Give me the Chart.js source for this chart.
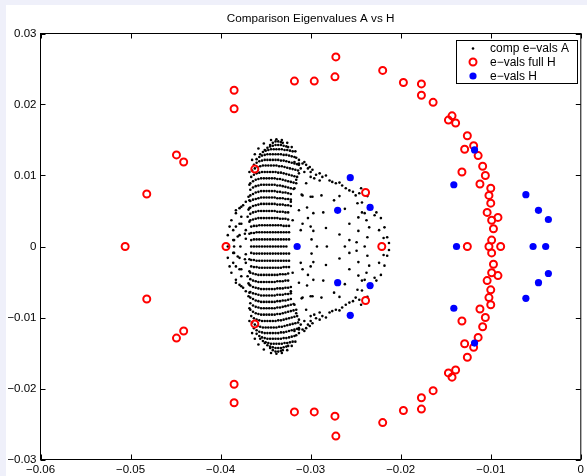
<!DOCTYPE html>
<html>
<head>
<meta charset="utf-8">
<script src="https://cdn.jsdelivr.net/npm/chart.js@4"></script>
<style>
  html, body { margin: 0; padding: 0; background: #eff0fa; }
  body { width: 587px; height: 476px; overflow: hidden; position: relative; }
  #wrap { position: absolute; left: 6px; top: 5px; width: 581px; height: 471px; background: #fff; }
</style>
</head>
<body>
<div id="wrap"><canvas id="chart" width="581" height="471"></canvas></div>
<script>
"use strict";

const titleText = 'Comparison Eigenvalues A vs H';
const seriesNames = ['comp e\u2212vals A', 'e\u2212vals full H', 'e\u2212vals H'];

const xTicks = [-0.06, -0.05, -0.04, -0.03, -0.02, -0.01, 0];
const xTickLabels = ['\u22120.06', '\u22120.05', '\u22120.04', '\u22120.03', '\u22120.02', '\u22120.01', '0'];
const yTicks = [-0.03, -0.02, -0.01, 0, 0.01, 0.02, 0.03];
const yTickLabels = ['\u22120.03', '\u22120.02', '\u22120.01', '0', '0.01', '0.02', '0.03'];

// comp e-vals A, the dense lobe: one entry per arc of dots (conjugate pairs share re)
const lobeArcs = [
  { re: [-0.0345,-0.0342,-0.0339,-0.0336,-0.0333,-0.0331],
    imUp: [0.0143,0.0146,0.0148,0.0148,0.0147,0.0146],
    imDown: [-0.0143,-0.0146,-0.0148,-0.0148,-0.0147,-0.0146] },
  { re: [-0.0351,-0.0348,-0.0345,-0.0342,-0.0339,-0.0336,-0.0333,-0.0330,-0.0327,-0.0325],
    imUp: [0.0136,0.0139,0.0141,0.0142,0.0143,0.0143,0.0143,0.0142,0.0141,0.0140],
    imDown: [-0.0136,-0.0139,-0.0141,-0.0142,-0.0143,-0.0143,-0.0143,-0.0142,-0.0141,-0.0140] },
  { re: [-0.0356,-0.0353,-0.0350,-0.0347,-0.0344,-0.0341,-0.0338,-0.0335,-0.0332,-0.0329,-0.0326,-0.0323,-0.0320],
    imUp: [0.0130,0.0133,0.0135,0.0136,0.0137,0.0137,0.0137,0.0137,0.0137,0.0136,0.0136,0.0135,0.0134],
    imDown: [-0.0130,-0.0133,-0.0135,-0.0136,-0.0137,-0.0137,-0.0137,-0.0137,-0.0137,-0.0136,-0.0136,-0.0135,-0.0134] },
  { re: [-0.0360,-0.0357,-0.0354,-0.0351,-0.0348,-0.0345,-0.0342,-0.0339,-0.0336,-0.0333,-0.0330,-0.0327,-0.0324,-0.0321,-0.0318,-0.0316],
    imUp: [0.0123,0.0126,0.0128,0.0129,0.0130,0.0130,0.0130,0.0130,0.0130,0.0130,0.0129,0.0129,0.0128,0.0127,0.0126,0.0125],
    imDown: [-0.0123,-0.0126,-0.0128,-0.0129,-0.0130,-0.0130,-0.0130,-0.0130,-0.0130,-0.0130,-0.0129,-0.0129,-0.0128,-0.0127,-0.0126,-0.0125] },
  { re: [-0.0363,-0.0360,-0.0357,-0.0354,-0.0351,-0.0348,-0.0345,-0.0342,-0.0339,-0.0336,-0.0333,-0.0330,-0.0327,-0.0324,-0.0321,-0.0318,-0.0315,-0.0313],
    imUp: [0.0115,0.0118,0.0120,0.0121,0.0122,0.0122,0.0122,0.0122,0.0122,0.0122,0.0121,0.0121,0.0120,0.0119,0.0118,0.0117,0.0116,0.0115],
    imDown: [-0.0115,-0.0118,-0.0120,-0.0121,-0.0122,-0.0122,-0.0122,-0.0122,-0.0122,-0.0122,-0.0121,-0.0121,-0.0120,-0.0119,-0.0118,-0.0117,-0.0116,-0.0115] },
  { re: [-0.0365,-0.0362,-0.0359,-0.0356,-0.0353,-0.0350,-0.0347,-0.0344,-0.0341,-0.0338,-0.0335,-0.0332,-0.0329,-0.0326,-0.0323,-0.0320,-0.0317,-0.0314],
    imUp: [0.0107,0.0110,0.0112,0.0113,0.0114,0.0114,0.0114,0.0114,0.0114,0.0114,0.0113,0.0113,0.0112,0.0111,0.0110,0.0109,0.0108,0.0107],
    imDown: [-0.0107,-0.0110,-0.0112,-0.0113,-0.0114,-0.0114,-0.0114,-0.0114,-0.0114,-0.0114,-0.0113,-0.0113,-0.0112,-0.0111,-0.0110,-0.0109,-0.0108,-0.0107] },
  { re: [-0.0366,-0.0363,-0.0360,-0.0357,-0.0354,-0.0351,-0.0348,-0.0345,-0.0342,-0.0339,-0.0336,-0.0333,-0.0330,-0.0327,-0.0324,-0.0321,-0.0318,-0.0315],
    imUp: [0.0098,0.0101,0.0103,0.0104,0.0105,0.0105,0.0105,0.0105,0.0105,0.0105,0.0104,0.0104,0.0103,0.0102,0.0101,0.0100,0.0099,0.0098],
    imDown: [-0.0098,-0.0101,-0.0103,-0.0104,-0.0105,-0.0105,-0.0105,-0.0105,-0.0105,-0.0105,-0.0104,-0.0104,-0.0103,-0.0102,-0.0101,-0.0100,-0.0099,-0.0098] },
  { re: [-0.0367,-0.0364,-0.0361,-0.0358,-0.0355,-0.0352,-0.0349,-0.0346,-0.0343,-0.0340,-0.0337,-0.0334,-0.0331,-0.0328,-0.0325,-0.0322,-0.0319,-0.0316],
    imUp: [0.0089,0.0092,0.0094,0.0095,0.0096,0.0096,0.0096,0.0096,0.0096,0.0096,0.0095,0.0095,0.0094,0.0093,0.0092,0.0091,0.0090,0.0089],
    imDown: [-0.0089,-0.0092,-0.0094,-0.0095,-0.0096,-0.0096,-0.0096,-0.0096,-0.0096,-0.0096,-0.0095,-0.0095,-0.0094,-0.0093,-0.0092,-0.0091,-0.0090,-0.0089] },
  { re: [-0.0367,-0.0364,-0.0361,-0.0358,-0.0355,-0.0352,-0.0349,-0.0346,-0.0343,-0.0340,-0.0337,-0.0334,-0.0331,-0.0328,-0.0325,-0.0322,-0.0319],
    imUp: [0.0080,0.0083,0.0085,0.0086,0.0087,0.0087,0.0087,0.0087,0.0087,0.0087,0.0086,0.0086,0.0085,0.0084,0.0083,0.0082,0.0081],
    imDown: [-0.0080,-0.0083,-0.0085,-0.0086,-0.0087,-0.0087,-0.0087,-0.0087,-0.0087,-0.0087,-0.0086,-0.0086,-0.0085,-0.0084,-0.0083,-0.0082,-0.0081] },
  { re: [-0.0367,-0.0364,-0.0361,-0.0358,-0.0355,-0.0352,-0.0349,-0.0346,-0.0343,-0.0340,-0.0337,-0.0334,-0.0331,-0.0328,-0.0325,-0.0322],
    imUp: [0.0072,0.0074,0.0076,0.0077,0.0078,0.0078,0.0078,0.0078,0.0078,0.0078,0.0077,0.0077,0.0076,0.0076,0.0075,0.0074],
    imDown: [-0.0072,-0.0074,-0.0076,-0.0077,-0.0078,-0.0078,-0.0078,-0.0078,-0.0078,-0.0078,-0.0077,-0.0077,-0.0076,-0.0076,-0.0075,-0.0074] },
  { re: [-0.0367,-0.0364,-0.0361,-0.0358,-0.0355,-0.0352,-0.0349,-0.0346,-0.0343,-0.0340,-0.0337,-0.0334,-0.0331,-0.0328,-0.0325,-0.0322],
    imUp: [0.0064,0.0066,0.0067,0.0068,0.0069,0.0069,0.0069,0.0069,0.0069,0.0069,0.0068,0.0068,0.0068,0.0067,0.0067,0.0066],
    imDown: [-0.0064,-0.0066,-0.0067,-0.0068,-0.0069,-0.0069,-0.0069,-0.0069,-0.0069,-0.0069,-0.0068,-0.0068,-0.0068,-0.0067,-0.0067,-0.0066] },
  { re: [-0.0367,-0.0364,-0.0361,-0.0358,-0.0355,-0.0352,-0.0349,-0.0346,-0.0343,-0.0340,-0.0337,-0.0334,-0.0331,-0.0328,-0.0325,-0.0322],
    imUp: [0.0055,0.0057,0.0058,0.0059,0.0060,0.0060,0.0060,0.0060,0.0060,0.0060,0.0059,0.0059,0.0059,0.0058,0.0058,0.0057],
    imDown: [-0.0055,-0.0057,-0.0058,-0.0059,-0.0060,-0.0060,-0.0060,-0.0060,-0.0060,-0.0060,-0.0059,-0.0059,-0.0059,-0.0058,-0.0058,-0.0057] },
  { re: [-0.0367,-0.0364,-0.0361,-0.0358,-0.0355,-0.0352,-0.0349,-0.0346,-0.0343,-0.0340,-0.0337,-0.0334,-0.0331,-0.0328,-0.0325],
    imUp: [0.0046,0.0048,0.0049,0.0050,0.0050,0.0050,0.0050,0.0050,0.0050,0.0050,0.0049,0.0049,0.0049,0.0048,0.0048],
    imDown: [-0.0046,-0.0048,-0.0049,-0.0050,-0.0050,-0.0050,-0.0050,-0.0050,-0.0050,-0.0050,-0.0049,-0.0049,-0.0049,-0.0048,-0.0048] },
  { re: [-0.0367,-0.0364,-0.0361,-0.0358,-0.0355,-0.0352,-0.0349,-0.0346,-0.0343,-0.0340,-0.0337,-0.0334,-0.0331,-0.0328,-0.0325],
    imUp: [0.0037,0.0038,0.0039,0.0040,0.0040,0.0040,0.0040,0.0040,0.0040,0.0040,0.0040,0.0039,0.0039,0.0039,0.0038],
    imDown: [-0.0037,-0.0038,-0.0039,-0.0040,-0.0040,-0.0040,-0.0040,-0.0040,-0.0040,-0.0040,-0.0040,-0.0039,-0.0039,-0.0039,-0.0038] },
  { re: [-0.0366,-0.0363,-0.0360,-0.0357,-0.0354,-0.0351,-0.0348,-0.0345,-0.0342,-0.0339,-0.0336,-0.0333,-0.0330,-0.0327,-0.0324],
    imUp: [0.0028,0.0029,0.0029,0.0030,0.0030,0.0030,0.0030,0.0030,0.0030,0.0030,0.0030,0.0030,0.0029,0.0029,0.0029],
    imDown: [-0.0028,-0.0029,-0.0029,-0.0030,-0.0030,-0.0030,-0.0030,-0.0030,-0.0030,-0.0030,-0.0030,-0.0030,-0.0029,-0.0029,-0.0029] },
  { re: [-0.0366,-0.0363,-0.0360,-0.0357,-0.0354,-0.0351,-0.0348,-0.0345,-0.0342,-0.0339,-0.0336,-0.0333,-0.0330,-0.0327,-0.0324],
    imUp: [0.0019,0.0019,0.0020,0.0020,0.0020,0.0020,0.0020,0.0020,0.0020,0.0020,0.0020,0.0020,0.0020,0.0020,0.0020],
    imDown: [-0.0019,-0.0019,-0.0020,-0.0020,-0.0020,-0.0020,-0.0020,-0.0020,-0.0020,-0.0020,-0.0020,-0.0020,-0.0020,-0.0020,-0.0020] },
  { re: [-0.0366,-0.0363,-0.0360,-0.0357,-0.0354,-0.0351,-0.0348,-0.0345,-0.0342,-0.0339,-0.0336,-0.0333,-0.0330,-0.0327,-0.0324],
    imUp: [0.0009,0.0010,0.0010,0.0010,0.0010,0.0010,0.0010,0.0010,0.0010,0.0010,0.0010,0.0010,0.0010,0.0010,0.0010],
    imDown: [-0.0009,-0.0010,-0.0010,-0.0010,-0.0010,-0.0010,-0.0010,-0.0010,-0.0010,-0.0010,-0.0010,-0.0010,-0.0010,-0.0010,-0.0010] }
];
const lobeEdgeUpper = [
  [-0.0365,0.0122],[-0.0362,0.0130],[-0.0358,0.0138],[-0.0352,0.0145],[-0.0344,0.0150],[-0.0338,0.0151],[-0.0332,0.0150],
  [-0.0326,0.0146],[-0.0321,0.0140],[-0.0317,0.0134],[-0.0368,0.0105],[-0.0368,0.0087],[-0.0369,0.0070],[-0.0369,0.0052],
  [-0.0368,0.0035],[-0.0368,0.0018]
];
const lobeEdgeLower = [
  [-0.0365,-0.0122],[-0.0362,-0.0130],[-0.0358,-0.0138],[-0.0352,-0.0145],[-0.0344,-0.0150],[-0.0338,-0.0151],[-0.0332,-0.0150],
  [-0.0326,-0.0146],[-0.0321,-0.0140],[-0.0317,-0.0134],[-0.0368,-0.0105],[-0.0368,-0.0087],[-0.0369,-0.0070],[-0.0369,-0.0052],
  [-0.0368,-0.0035],[-0.0368,-0.0018]
];
const outerUpper = [
  [-0.0318,0.0119],[-0.0313,0.0117],[-0.0307,0.0119],[-0.0303,0.0110],[-0.0313,0.0103],[-0.0300,0.0105],[-0.0316,0.0094],
  [-0.0305,0.0089],[-0.0318,0.0082],[-0.0309,0.0072],[-0.0300,0.0070],[-0.0322,0.0063],[-0.0313,0.0051],[-0.0303,0.0040],
  [-0.0320,0.0037],[-0.0311,0.0023],[-0.0300,0.0028],
  [-0.0313,0.0122],[-0.0309,0.0117],[-0.0305,0.0115],[-0.0311,0.0110],[-0.0301,0.0112],[-0.0307,0.0105],[-0.0298,0.0108],
  [-0.0294,0.0101],[-0.0300,0.0098],[-0.0290,0.0103],[-0.0287,0.0098],[-0.0283,0.0100],[-0.0279,0.0093],[-0.0276,0.0091],
  [-0.0272,0.0089],[-0.0268,0.0090],[-0.0265,0.0086],[-0.0290,0.0093],[-0.0296,0.0096],[-0.0261,0.0082],[-0.0257,0.0079],
  [-0.0253,0.0077],[-0.0250,0.0072],[-0.0246,0.0075],
  [-0.0243,0.0062],[-0.0235,0.0058],[-0.0227,0.0048],[-0.0222,0.0040],[-0.0218,0.0027],[-0.0215,0.0013],[-0.0213,0.0005],
  [-0.0248,0.0061],[-0.0243,0.0048],[-0.0238,0.0037],[-0.0235,0.0027],[-0.0244,0.0082],[-0.0237,0.0071],[-0.0229,0.0044],
  [-0.0224,0.0023],[-0.0219,0.0012],
  [-0.0310,0.0073],[-0.0298,0.0070],[-0.0288,0.0072],[-0.0274,0.0065],[-0.0268,0.0071],[-0.0304,0.0055],[-0.0297,0.0047],
  [-0.0286,0.0048],[-0.0262,0.0053],[-0.0309,0.0032],[-0.0297,0.0022],[-0.0283,0.0026],[-0.0268,0.0017],[-0.0257,0.0032],
  [-0.0247,0.0041],[-0.0247,0.0022],[-0.0240,0.0047],[-0.0237,0.0013],[-0.0299,0.0010],[-0.0257,0.0009],[-0.0249,0.0006]
];
const outerLower = [
  [-0.0318,-0.0119],[-0.0313,-0.0117],[-0.0307,-0.0119],[-0.0303,-0.0110],[-0.0313,-0.0103],[-0.0300,-0.0105],[-0.0316,-0.0094],
  [-0.0305,-0.0089],[-0.0318,-0.0082],[-0.0309,-0.0072],[-0.0300,-0.0070],[-0.0322,-0.0063],[-0.0313,-0.0051],[-0.0303,-0.0040],
  [-0.0320,-0.0037],[-0.0311,-0.0023],[-0.0300,-0.0028],
  [-0.0313,-0.0122],[-0.0309,-0.0117],[-0.0305,-0.0115],[-0.0311,-0.0110],[-0.0301,-0.0112],[-0.0307,-0.0105],[-0.0298,-0.0108],
  [-0.0294,-0.0101],[-0.0300,-0.0098],[-0.0290,-0.0103],[-0.0287,-0.0098],[-0.0283,-0.0100],[-0.0279,-0.0093],[-0.0276,-0.0091],
  [-0.0272,-0.0089],[-0.0268,-0.0090],[-0.0265,-0.0086],[-0.0290,-0.0093],[-0.0296,-0.0096],[-0.0261,-0.0082],[-0.0257,-0.0079],
  [-0.0253,-0.0077],[-0.0250,-0.0072],[-0.0246,-0.0075],
  [-0.0243,-0.0062],[-0.0235,-0.0058],[-0.0227,-0.0048],[-0.0222,-0.0040],[-0.0218,-0.0027],[-0.0215,-0.0013],[-0.0213,-0.0005],
  [-0.0248,-0.0061],[-0.0243,-0.0048],[-0.0238,-0.0037],[-0.0235,-0.0027],[-0.0244,-0.0082],[-0.0237,-0.0071],[-0.0229,-0.0044],
  [-0.0224,-0.0023],[-0.0219,-0.0012],
  [-0.0310,-0.0073],[-0.0298,-0.0070],[-0.0288,-0.0072],[-0.0274,-0.0065],[-0.0268,-0.0071],[-0.0304,-0.0055],[-0.0297,-0.0047],
  [-0.0286,-0.0048],[-0.0262,-0.0053],[-0.0309,-0.0032],[-0.0297,-0.0022],[-0.0283,-0.0026],[-0.0268,-0.0017],[-0.0257,-0.0032],
  [-0.0247,-0.0041],[-0.0247,-0.0022],[-0.0240,-0.0047],[-0.0237,-0.0013],[-0.0299,-0.0010],[-0.0257,-0.0009],[-0.0249,-0.0006]
];
const ringUpper = [
  [-0.0383,0.0047],[-0.0379,0.0054],[-0.0375,0.0058],[-0.0372,0.0063],[-0.0388,0.0037],[-0.0390,0.0028],[-0.0392,0.0016],
  [-0.0383,0.0028],[-0.0377,0.0032],[-0.0379,0.0016],[-0.0372,0.0023],[-0.0385,0.0009],[-0.0372,0.0011],[-0.0377,0.0042],
  [-0.0370,0.0042],[-0.0368,0.0054],[-0.0368,0.0065],[-0.0383,0.0051],[-0.0377,0.0056],[-0.0386,0.0023],[-0.0379,0.0032],
  [-0.0381,0.0014],[-0.0373,0.0018],[-0.0386,0.0009]
];
const ringLower = [
  [-0.0383,-0.0047],[-0.0379,-0.0054],[-0.0375,-0.0058],[-0.0372,-0.0063],[-0.0388,-0.0037],[-0.0390,-0.0028],[-0.0392,-0.0016],
  [-0.0383,-0.0028],[-0.0377,-0.0032],[-0.0379,-0.0016],[-0.0372,-0.0023],[-0.0385,-0.0009],[-0.0372,-0.0011],[-0.0377,-0.0042],
  [-0.0370,-0.0042],[-0.0368,-0.0054],[-0.0368,-0.0065],[-0.0383,-0.0051],[-0.0377,-0.0056],[-0.0386,-0.0023],[-0.0379,-0.0032],
  [-0.0381,-0.0014],[-0.0373,-0.0018],[-0.0386,-0.0009]
];
const cloudReal = [
  [-0.0392,0],[-0.0385,0],[-0.0378,0],[-0.0366,0],[-0.0363,0],[-0.0360,0],[-0.0357,0],[-0.0354,0],[-0.0351,0],[-0.0348,0],
  [-0.0345,0],[-0.0342,0],[-0.0339,0],[-0.0336,0],[-0.0333,0],[-0.0330,0],[-0.0327,0],
  [-0.0293,0],[-0.0282,0],[-0.0262,0],[-0.0240,0]
];

// e-vals full H
const fullHUpper = [
  [-0.0482,0.0074],[-0.0449,0.0129],[-0.0441,0.0119],[-0.0385,0.0220],[-0.0385,0.0194],[-0.0362,0.0109],[-0.0318,0.0233],
  [-0.0296,0.0233],[-0.0272,0.0267],[-0.0273,0.0239],[-0.0239,0.0076],[-0.0220,0.0248],[-0.0197,0.0231],[-0.0177,0.0229],
  [-0.0177,0.0213],[-0.0164,0.0203],[-0.0143,0.0184],[-0.0147,0.0178],[-0.0139,0.0174],[-0.0126,0.0156],[-0.0119,0.0142],
  [-0.0129,0.0137],[-0.0114,0.0128],[-0.0109,0.0113],[-0.0132,0.0105],[-0.0106,0.0100],[-0.0112,0.0088],[-0.0100,0.0082],
  [-0.0102,0.0072],[-0.0100,0.0061],[-0.0104,0.0048],[-0.0092,0.0041],[-0.0099,0.0037],[-0.0097,0.0025],[-0.0099,0.0009]
];
const fullHLower = [
  [-0.0482,-0.0074],[-0.0449,-0.0129],[-0.0441,-0.0119],[-0.0385,-0.0220],[-0.0385,-0.0194],[-0.0362,-0.0109],[-0.0318,-0.0233],
  [-0.0296,-0.0233],[-0.0272,-0.0267],[-0.0273,-0.0239],[-0.0239,-0.0076],[-0.0220,-0.0248],[-0.0197,-0.0231],[-0.0177,-0.0229],
  [-0.0177,-0.0213],[-0.0164,-0.0203],[-0.0143,-0.0184],[-0.0147,-0.0178],[-0.0139,-0.0174],[-0.0126,-0.0156],[-0.0119,-0.0142],
  [-0.0129,-0.0137],[-0.0114,-0.0128],[-0.0109,-0.0113],[-0.0132,-0.0105],[-0.0106,-0.0100],[-0.0112,-0.0088],[-0.0100,-0.0082],
  [-0.0102,-0.0072],[-0.0100,-0.0061],[-0.0104,-0.0048],[-0.0092,-0.0041],[-0.0099,-0.0037],[-0.0097,-0.0025],[-0.0099,-0.0009]
];
const fullHReal = [[-0.0506,0],[-0.0394,0],[-0.0221,0],[-0.0126,0],[-0.0102,0],[-0.0089,0]];

// e-vals H
const hUpper = [
  [-0.0256,0.0097],[-0.0270,0.0051],[-0.0234,0.0055],[-0.0118,0.0136],[-0.0141,0.0087],[-0.0061,0.0073],[-0.0047,0.0051],[-0.0036,0.0038]
];
const hLower = [
  [-0.0256,-0.0097],[-0.0270,-0.0051],[-0.0234,-0.0055],[-0.0118,-0.0136],[-0.0141,-0.0087],[-0.0061,-0.0073],[-0.0047,-0.0051],[-0.0036,-0.0038]
];
const hReal = [[-0.0315,0],[-0.0138,0],[-0.0053,0],[-0.0039,0]];

const toXY = list => list.map(p => ({ x: p[0], y: p[1] }));

const arcPoints = [];
lobeArcs.forEach(arc => {
  arc.re.forEach((re, i) => {
    arcPoints.push([re, arc.imUp[i]]);
    arcPoints.push([re, arc.imDown[i]]);
  });
});

const compA = [].concat(arcPoints, lobeEdgeUpper, lobeEdgeLower,
  outerUpper, outerLower, ringUpper, ringLower, cloudReal);
const fullH = [].concat(fullHUpper, fullHLower, fullHReal);
const evalsH = [].concat(hUpper, hLower, hReal);

const fontFam = '"Liberation Sans", Arial, Helvetica, sans-serif';

const matlabFrame = {
  id: 'matlabFrame',
  afterDraw(chart) {
    const { ctx, chartArea: a } = chart;
    const xs = chart.scales.x, ys = chart.scales.y;
    ctx.save();
    ctx.strokeStyle = '#000';
    ctx.lineWidth = 1;
    ctx.strokeRect(a.left, a.top, a.right - a.left, a.bottom - a.top);
    ctx.beginPath();
    xTicks.forEach(v => {
      const px = Math.round(xs.getPixelForValue(v)) + 0.5;
      ctx.moveTo(px, a.top); ctx.lineTo(px, a.top + 5);
      ctx.moveTo(px, a.bottom); ctx.lineTo(px, a.bottom - 5);
    });
    yTicks.forEach(v => {
      const py = Math.round(ys.getPixelForValue(v)) + 0.5;
      ctx.moveTo(a.left, py); ctx.lineTo(a.left + 5, py);
      ctx.moveTo(a.right, py); ctx.lineTo(a.right - 5, py);
    });
    ctx.stroke();

    // title
    ctx.fillStyle = '#000';
    ctx.font = '11.7px ' + fontFam;
    ctx.textAlign = 'center';
    ctx.textBaseline = 'middle';
    ctx.fillText(titleText, (a.left + a.right) / 2, 13.5);

    // legend box
    const bx = 450.5, by = 35.5, bw = 121, bh = 43;
    ctx.fillStyle = '#fff';
    ctx.fillRect(bx, by, bw, bh);
    ctx.strokeRect(bx, by, bw, bh);
    ctx.font = '12px ' + fontFam;
    ctx.textAlign = 'left';
    const rows = [43.5, 57, 71];
    const mx = 467;
    ctx.fillStyle = '#000';
    ctx.beginPath(); ctx.arc(mx, rows[0], 1.3, 0, Math.PI * 2); ctx.fill();
    ctx.strokeStyle = '#f00'; ctx.lineWidth = 2;
    ctx.beginPath(); ctx.arc(mx, rows[1], 3.5, 0, Math.PI * 2); ctx.stroke();
    ctx.fillStyle = '#00f';
    ctx.beginPath(); ctx.arc(mx, rows[2], 3.6, 0, Math.PI * 2); ctx.fill();
    ctx.fillStyle = '#000';
    seriesNames.forEach((s, i) => ctx.fillText(s, 484, rows[i] + 0.5));
    ctx.restore();
  }
};

const tickFont = { family: fontFam, size: 11.5 };

new Chart(document.getElementById('chart'), {
  type: 'scatter',
  data: {
    datasets: [
      { label: seriesNames[0], data: toXY(compA), pointRadius: 1.3, pointBorderWidth: 0,
        backgroundColor: '#000', borderColor: '#000', order: 3 },
      { label: seriesNames[1], data: toXY(fullH), pointRadius: 3.5, pointBorderWidth: 2,
        backgroundColor: 'rgba(0,0,0,0)', borderColor: '#f00', order: 2 },
      { label: seriesNames[2], data: toXY(evalsH), pointRadius: 3.6, pointBorderWidth: 0,
        backgroundColor: '#00f', borderColor: '#00f', order: 1 }
    ]
  },
  options: {
    responsive: false,
    animation: false,
    devicePixelRatio: 1,
    events: [],
    layout: { padding: { top: 28.5, right: 5, left: 0, bottom: 0 } },
    plugins: { legend: { display: false }, tooltip: { enabled: false }, title: { display: false } },
    scales: {
      x: {
        type: 'linear', min: -0.06, max: 0,
        afterFit: s => { s.height = 16.5; },
        afterBuildTicks: s => { s.ticks = xTicks.map(v => ({ value: v })); },
        grid: { display: false, drawTicks: false },
        border: { display: false },
        ticks: { padding: 3, color: '#000', font: tickFont, maxRotation: 0, autoSkip: false,
          callback: (v, i) => xTickLabels[i] }
      },
      y: {
        type: 'linear', min: -0.03, max: 0.03,
        afterFit: s => { s.width = 34.5; },
        afterBuildTicks: s => { s.ticks = yTicks.map(v => ({ value: v })); },
        grid: { display: false, drawTicks: false },
        border: { display: false },
        ticks: { padding: 4, color: '#000', font: tickFont, autoSkip: false,
          callback: (v, i) => yTickLabels[i] }
      }
    }
  },
  plugins: [matlabFrame]
});
</script>
</body>
</html>
